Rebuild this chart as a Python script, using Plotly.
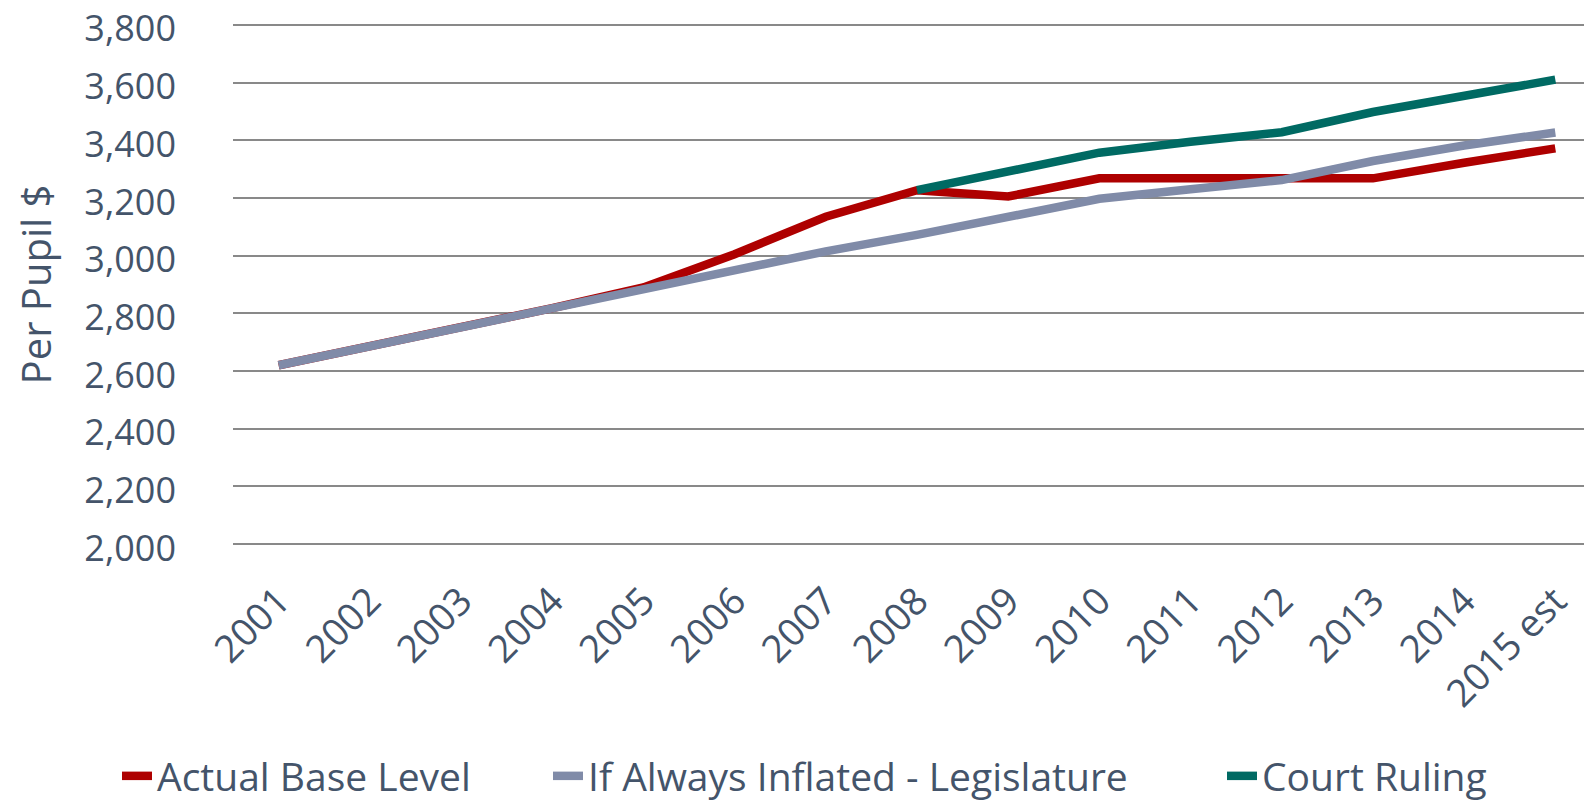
import plotly.graph_objects as go

years = ["2001", "2002", "2003", "2004", "2005", "2006", "2007", "2008",
         "2009", "2010", "2011", "2012", "2013", "2014", "2015 est"]
actual_base = [2620, 2684, 2750, 2818, 2890, 3005, 3135, 3227,
               3205, 3268, 3268, 3268, 3268, 3322, 3372]
if_inflated = [2620, 2686, 2753, 2820, 2887, 2955, 3015, 3072,
               3133, 3197, 3230, 3262, 3328, 3382, 3427]
court_ruling = [None, None, None, None, None, None, None, 3227,
                3292, 3357, 3395, 3428, 3498, 3557, 3610]

text_color = "#44546A"
font_family = "Open Sans, Noto Sans, sans-serif"
W, H = 1592, 804

fig = go.Figure()
fig.add_trace(go.Scatter(x=years, y=actual_base, mode="lines", name="Actual Base Level",
                         line=dict(color="#AE0000", width=8.5), legend="legend"))
fig.add_trace(go.Scatter(x=years, y=if_inflated, mode="lines", name="If Always Inflated - Legislature",
                         line=dict(color="#808BA8", width=8.5), legend="legend2"))
fig.add_trace(go.Scatter(x=years, y=court_ruling, mode="lines", name="Court Ruling",
                         line=dict(color="#006A63", width=8.5), legend="legend3"))

def leg(xpx):
    return dict(orientation="h", xref="container", yref="container",
                x=xpx / W, xanchor="left", y=1 - 768 / H, yanchor="middle",
                font=dict(size=39, color=text_color), itemwidth=30,
                bgcolor="rgba(0,0,0,0)")

fig.update_layout(
    width=W, height=H,
    paper_bgcolor="white", plot_bgcolor="white",
    margin=dict(l=224.5, r=0, t=13.5, b=265),
    font=dict(family=font_family, color=text_color),
    showlegend=True,
    legend=leg(109),
    legend2=leg(540),
    legend3=leg(1214),
)
fig.update_xaxes(
    type="category", range=[-0.5, 14.49],
    tickangle=-45, tickfont=dict(size=38, color=text_color),
    showgrid=False, zeroline=False, showline=False,
    ticklabelstandoff=23, automargin=False,
)
fig.update_yaxes(
    range=[1990, 3810], dtick=200, tick0=2000, tickformat=",",
    tickfont=dict(size=36, color=text_color),
    showgrid=True, gridcolor="#898989", gridwidth=2,
    zeroline=False, showline=False,
    ticklabelstandoff=56, ticklabelshift=4,
    automargin=False, ticklabeloverflow="allow",
    title=dict(text="Per Pupil $", font=dict(size=40, color=text_color), standoff=24),
)
fig.write_html("out.html")
